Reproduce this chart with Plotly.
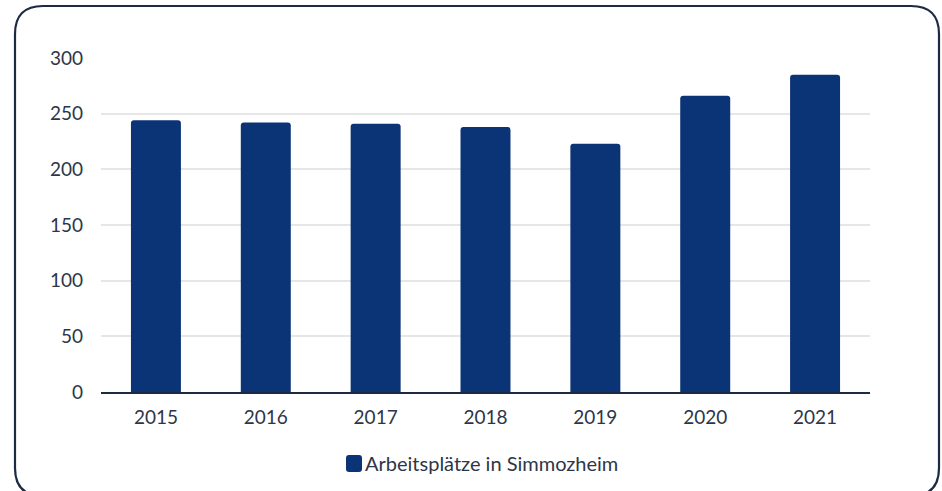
import plotly.graph_objects as go

years = ["2015", "2016", "2017", "2018", "2019", "2020", "2021"]
jobs = [244, 242, 241, 238, 223, 266, 285]
series_name = "Arbeitsplätze in Simmozheim"
y_ticks = [0, 50, 100, 150, 200, 250, 300]

W, H = 942, 491
L, R, T, B = 101, 72, 58, 99
pw, ph = W - L - R, H - T - B

TEXT = "#2d3648"
NAVY = "#0b3477"

fig = go.Figure()
fig.add_trace(go.Bar(
    x=years, y=jobs, name=series_name,
    marker=dict(color=NAVY, line=dict(width=0)),
    showlegend=False,
))

def px(x):
    return (x - L) / pw

def py(y):
    return (H - B - y) / ph

def rounded(x0, y0, x1, y1, r):
    return (
        f"M {px(x0 + r)} {py(y0)} L {px(x1 - r)} {py(y0)} "
        f"Q {px(x1)} {py(y0)} {px(x1)} {py(y0 + r)} "
        f"L {px(x1)} {py(y1 - r)} Q {px(x1)} {py(y1)} {px(x1 - r)} {py(y1)} "
        f"L {px(x0 + r)} {py(y1)} Q {px(x0)} {py(y1)} {px(x0)} {py(y1 - r)} "
        f"L {px(x0)} {py(y0 + r)} Q {px(x0)} {py(y0)} {px(x0 + r)} {py(y0)} Z"
    )

# outer rounded frame
fig.add_shape(type="path", xref="paper", yref="paper", path=rounded(15, 6, 939, 496, 28),
              line=dict(color="#1c2a44", width=2.2), fillcolor="rgba(0,0,0,0)",
              layer="below")

# custom legend: rounded square + label
fig.add_shape(type="path", xref="paper", yref="paper", path=rounded(346, 455, 362, 472, 3),
              line=dict(width=0), fillcolor=NAVY)
fig.add_annotation(xref="paper", yref="paper", x=px(362.5), y=py(462.5), xanchor="left",
                   yanchor="middle", text=series_name, showarrow=False,
                   font=dict(size=20, color=TEXT))

fig.update_layout(
    width=W, height=H,
    margin=dict(l=L, r=R, t=T, b=B, autoexpand=False),
    paper_bgcolor="white", plot_bgcolor="white",
    font=dict(family="Lato, Open Sans, sans-serif", size=19, color=TEXT),
    bargap=0.545,
    barcornerradius=3,
    showlegend=False,
    xaxis=dict(showgrid=False, showline=True, linecolor="#1c2a44", linewidth=2,
               ticks="", ticklabelstandoff=7, tickfont=dict(size=19)),
    yaxis=dict(range=[0, 300], tickvals=y_ticks, showgrid=True, gridcolor="#e6e6e6",
               gridwidth=2, zeroline=False, showline=False, ticks="",
               ticklabelstandoff=17, tickfont=dict(size=19)),
)

fig.write_html("out.html", config={"displayModeBar": False},
               post_script="document.body.style.margin='0';document.body.style.padding='0';")
